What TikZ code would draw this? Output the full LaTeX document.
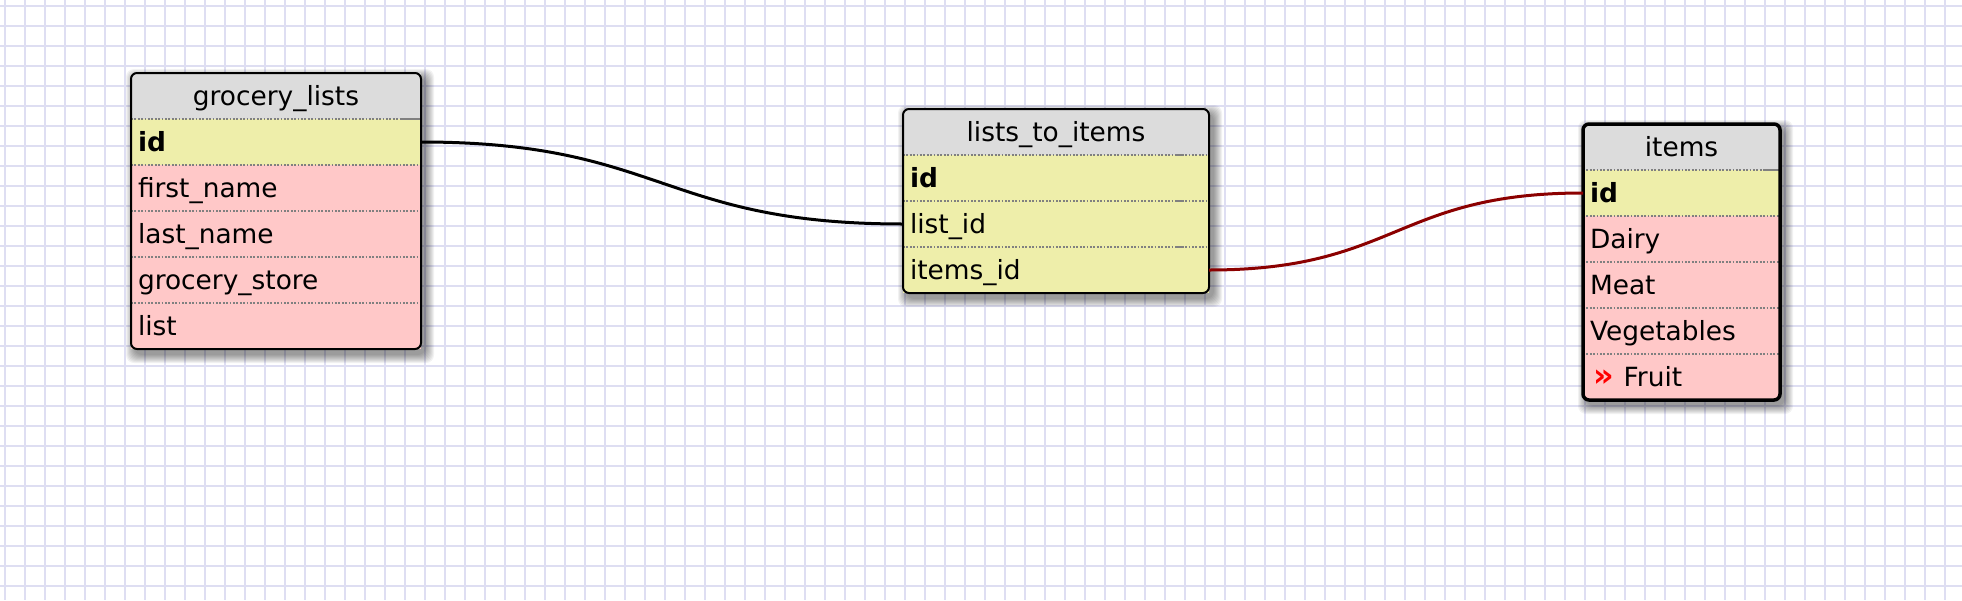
\documentclass[tikz,border=0pt]{standalone}
\usepackage{fontspec}
\setmainfont{DejaVu Sans}
\usetikzlibrary{positioning,backgrounds}
\definecolor{gridc}{RGB}{222,222,242}
\definecolor{headc}{RGB}{220,220,220}
\definecolor{keyc}{RGB}{238,238,170}
\definecolor{fieldc}{RGB}{255,200,200}
\definecolor{sepc}{RGB}{128,128,128}
\definecolor{linkc}{RGB}{139,0,0}
\newcommand\tabshadow[2]{%
\begin{pgfonlayer}{background}
\foreach \g in {1,...,9}
 \fill[black,opacity=.05,rounded corners=4pt]([shift={(4-\g,5-\g)}]#1)rectangle([shift={(4+\g,5+\g)}]#2);
\end{pgfonlayer}}

\begin{document}
\begin{tikzpicture}[x=0.5pt,y=-0.5pt,
  every node/.style={inner sep=0pt,outer sep=0pt,font=\fontsize{13.2}{16}\selectfont},
  cell/.style={anchor=north west,minimum height=23pt,text width=#1,inner xsep=3.5pt,align=left,text height=11pt,text depth=2pt},
  head/.style={cell=#1,fill=headc,align=center},
  key/.style={cell=#1,fill=keyc},
  field/.style={cell=#1,fill=fieldc},
  sep/.style={sepc,line width=0.85pt,dash pattern=on 0.85pt off 0.85pt},
  stub/.style={sepc,line width=0.85pt},
  frame/.style={line width=1pt,rounded corners=3pt},
  link/.style={line width=1.5pt},
  gridline/.style={gridc,line width=1pt}]
\useasboundingbox(0,0)rectangle(1962,600);
\begin{pgfonlayer}{background}
\fill[white](0,0)rectangle(1962,600);
\foreach \x in {5,25,...,1962} \draw[gridline](\x,0)--(\x,600);
\foreach \y in {6,26,...,600} \draw[gridline](0,\y)--(1962,\y);
\end{pgfonlayer}

\node[head=138pt](gl-head)at(131,73){grocery\_lists};
\node[key=138pt,below=0pt of gl-head](gl-id){\textbf{id}};
\draw[sep](gl-id.north west)--(gl-id.north east);
\draw[stub]([xshift=-10pt]gl-id.north east)--(gl-id.north east);
\foreach \n/\t [remember=\n as \p (initially id)] in {first/first\_name,last/last\_name,store/grocery\_store,list/list}
{\node[field=138pt,below=0pt of gl-\p](gl-\n){\t};
 \draw[sep](gl-\n.north west)--(gl-\n.north east);}
\draw[frame](gl-head.north west)rectangle(gl-list.south east);
\tabshadow{gl-head.north west}{gl-list.south east}

\node[head=146pt](lt-head)at(903,109){lists\_to\_items};
\node[key=146pt,below=0pt of lt-head](lt-id){\textbf{id}};
\node[key=146pt,below=0pt of lt-id](lt-list){list\_id};
\node[key=146pt,below=0pt of lt-list](lt-items){items\_id};
\foreach \n in {id,list,items}
{\draw[sep](lt-\n.north west)--(lt-\n.north east);
 \draw[stub]([xshift=-16.5pt]lt-\n.north east)--([xshift=-13pt]lt-\n.north east);}
\draw[frame](lt-head.north west)rectangle(lt-items.south east);
\tabshadow{lt-head.north west}{lt-items.south east}

\node[head=91.5pt](it-head)at(1583,124){items};
\node[key=91.5pt,below=0pt of it-head](it-id){\textbf{id}};
\draw[sep](it-id.north west)--(it-id.north east);
\draw[stub]([xshift=-8.5pt]it-id.north east)--([xshift=-1pt]it-id.north east);
\foreach \n/\t [remember=\n as \p (initially id)] in {dairy/Dairy,meat/Meat,veg/Vegetables,fruit/{\hspace{1.5pt}\textcolor{red}{\bfseries\fontsize{16}{16}\selectfont»}\hspace{5pt}Fruit}}
{\node[field=91.5pt,below=0pt of it-\p](it-\n){\t};
 \draw[sep](it-\n.north west)--(it-\n.north east);}
\draw[frame,line width=1.75pt](it-head.north west)rectangle(it-fruit.south east);
\tabshadow{it-head.north west}{it-fruit.south east}

\draw[link](gl-id.east)..controls +(241,0) and +(-241,0)..(lt-list.west);
\draw[link,linkc](lt-items.east)..controls +(187,0) and +(-187,0)..(it-id.west);
\end{tikzpicture}
\end{document}
